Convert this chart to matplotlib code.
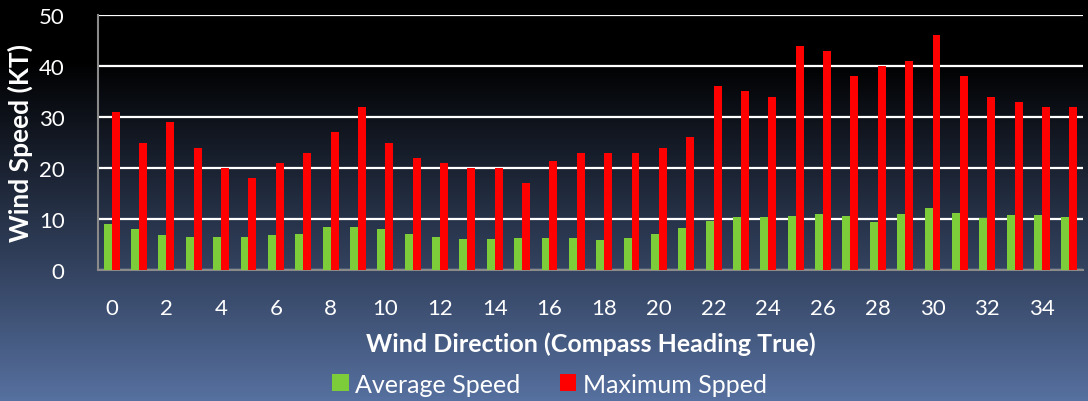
"""Wind speed by direction: average vs maximum, on a dark gradient background."""
import numpy as np
import matplotlib
matplotlib.use("Agg")
import matplotlib.pyplot as plt
from matplotlib.colors import LinearSegmentedColormap

plt.rcParams["font.family"] = ["Lato", "DejaVu Sans"]

# data
directions = [str(i) for i in range(36)]
avg_speed = [9.0, 8.0, 6.9, 6.5, 6.5, 6.5, 6.8, 7.1, 8.4, 8.5,
             8.0, 7.1, 6.4, 6.0, 6.0, 6.2, 6.2, 6.2, 5.8, 6.3,
             7.1, 8.2, 9.6, 10.3, 10.3, 10.5, 10.9, 10.5, 9.4, 10.9,
             12.1, 11.2, 10.1, 10.8, 10.8, 10.3]
max_speed = [31, 25, 29, 24, 20, 18, 21, 23, 27, 32,
             25, 22, 21, 20, 20, 17, 21.3, 23, 23, 23,
             24, 26, 36, 35, 34, 44, 43, 38, 40, 41,
             46, 38, 34, 33, 32, 32]
y_ticks = [0, 10, 20, 30, 40, 50]

GREEN = "#7dcd3a"
RED = "#ff0000"
TXT = "white"

fig = plt.figure(figsize=(10.88, 4.02), dpi=100)

# background gradient: black on top, slate blue at the bottom
bg = fig.add_axes([0, 0, 1, 1], zorder=-10)
bg_cmap = LinearSegmentedColormap.from_list(
    "bg", [(0.0, "#000000"), (0.15, "#000000"), (0.67, "#33425f"), (1.0, "#56709f")])
grad = np.linspace(0, 1, 402).reshape(-1, 1)
bg.imshow(grad, aspect="auto", cmap=bg_cmap, extent=[0, 1, 1, 0])
bg.set_axis_off()

ax = fig.add_axes([98 / 1088, 131 / 402, 985 / 1088, 255 / 402])
ax.set_facecolor("none")

x = np.arange(len(directions))
w = 0.29
ax.bar(x - w / 2, avg_speed, width=w, color=GREEN, label="Average Speed", zorder=3)
ax.bar(x + w / 2, max_speed, width=w, color=RED, label="Maximum Spped", zorder=3)

ax.set_xlim(-0.5, len(directions) - 0.5)
ax.set_ylim(0, 50)
ax.set_yticks(y_ticks)
ax.yaxis.grid(True, color="white", linewidth=1.6, zorder=1)
ax.set_axisbelow(True)

ax.set_xticks(x[::2])
ax.set_xticklabels(directions[::2])
ax.tick_params(axis="x", length=0, pad=20, colors=TXT, labelsize=16)
ax.tick_params(axis="y", length=0, pad=24, colors=TXT, labelsize=16)

for side in ("top", "right"):
    ax.spines[side].set_visible(False)
for side in ("left", "bottom"):
    ax.spines[side].set_color("#8a8a8a")
    ax.spines[side].set_linewidth(1.5)

ax.set_ylabel("Wind Speed (KT)", color=TXT, fontsize=19, fontweight="bold")
ax.yaxis.set_label_coords(-0.066, 0.5)
ax.set_xlabel("Wind Direction (Compass Heading True)", color=TXT, fontsize=18,
              fontweight="bold")
ax.xaxis.set_label_coords(0.5, -0.24)

fig.legend(loc="center", bbox_to_anchor=(0.505, 0.042), ncol=2, frameon=False,
           fontsize=18, labelcolor=TXT, handlelength=0.65, handleheight=0.65,
           handletextpad=0.25, columnspacing=1.6)

plt.savefig("out.png", dpi=100)
plt.close(fig)
